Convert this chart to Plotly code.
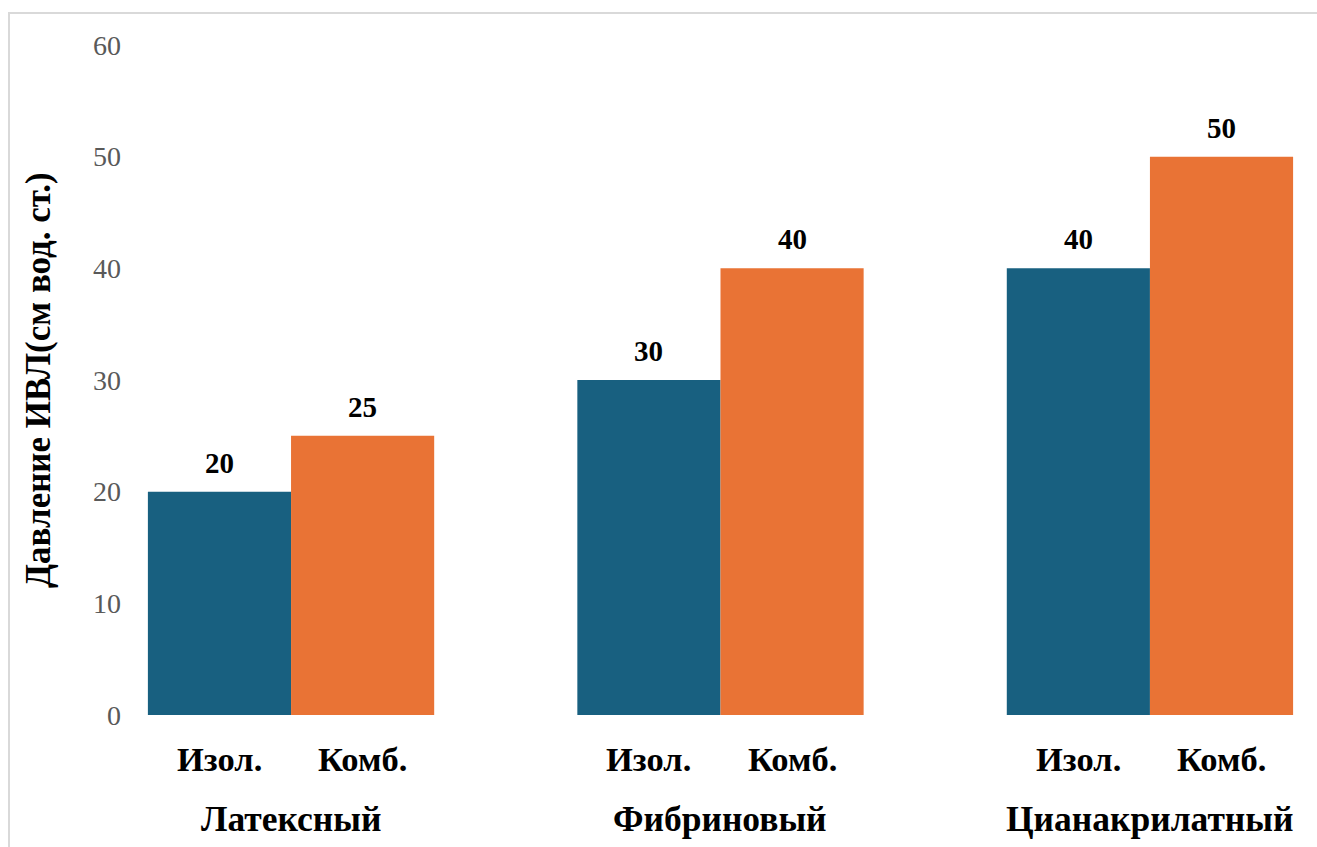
import plotly.graph_objects as go

# Данные: давление ИВЛ по типам герметиков
groups = ["Латексный", "Фибриновый", "Цианакрилатный"]
series_names = ["Изол.", "Комб."]
isolated = [20, 30, 40]
combined = [25, 40, 50]
y_ticks = [0, 10, 20, 30, 40, 50, 60]

colors = ["#186080", "#e97335"]
serif = "Liberation Serif, Times New Roman, serif"

W, H = 1317, 847
L, R, T, B = 130, 0, 45, 132
plot_w, plot_h = W - L - R, H - T - B

fig = go.Figure()
annotations = []
offsets = [-1 / 6, 1 / 6]
for si, (name, vals, col) in enumerate(zip(series_names, [isolated, combined], colors)):
    fig.add_trace(go.Bar(
        name=name, x=groups, y=vals,
        marker=dict(color=col, line=dict(width=0)),
    ))
    # Значения над столбцами
    for gi, v in enumerate(vals):
        annotations.append(dict(
            x=gi + offsets[si], xref="x", y=v, yref="y", yshift=29,
            text=f"<b>{v}</b>", showarrow=False, yanchor="middle",
            font=dict(family=serif, size=29, color="#000000"),
        ))

# Подписи серий под столбцами и названия групп
for gi, g in enumerate(groups):
    for si, s in enumerate(series_names):
        annotations.append(dict(
            x=gi + offsets[si], xref="x",
            y=(715 - 759) / plot_h, yref="paper",
            text=f"<b>{s}</b>", showarrow=False, yanchor="middle",
            font=dict(family=serif, size=34.5, color="#000000"),
        ))
    annotations.append(dict(
        x=gi, xref="x", y=(715 - 819) / plot_h, yref="paper",
        text=f"<b>{g}</b>", showarrow=False, yanchor="middle",
        font=dict(family=serif, size=35.5, color="#000000"),
    ))

# Подпись оси Y
annotations.append(dict(
    x=(38 - L) / plot_w, xref="paper", y=(715 - 380) / plot_h, yref="paper",
    text="<b>Давление ИВЛ(см вод. ст.)</b>", textangle=-90, showarrow=False,
    xanchor="center", yanchor="middle",
    font=dict(family=serif, size=35, color="#000000"),
))

fig.update_layout(
    width=W, height=H,
    margin=dict(l=L, r=R, t=T, b=B),
    paper_bgcolor="white", plot_bgcolor="white",
    barmode="group", bargap=1 / 3, bargroupgap=0,
    showlegend=False,
    xaxis=dict(range=[-0.375, 2.389], showticklabels=False, showgrid=False,
               zeroline=False, showline=False, ticks=""),
    yaxis=dict(range=[0, 60], tickvals=y_ticks, showgrid=False, zeroline=False,
               showline=False, ticks="", ticklabelstandoff=8,
               tickfont=dict(family=serif, size=28, color="#595959")),
    annotations=annotations,
    shapes=[dict(
        type="rect", xref="paper", yref="paper",
        x0=(9 - L) / plot_w, x1=1.05,
        y0=-0.5, y1=(715 - 13) / plot_h,
        line=dict(color="#d9d9d9", width=2), layer="below",
    )],
)

fig.write_html("out.html")
